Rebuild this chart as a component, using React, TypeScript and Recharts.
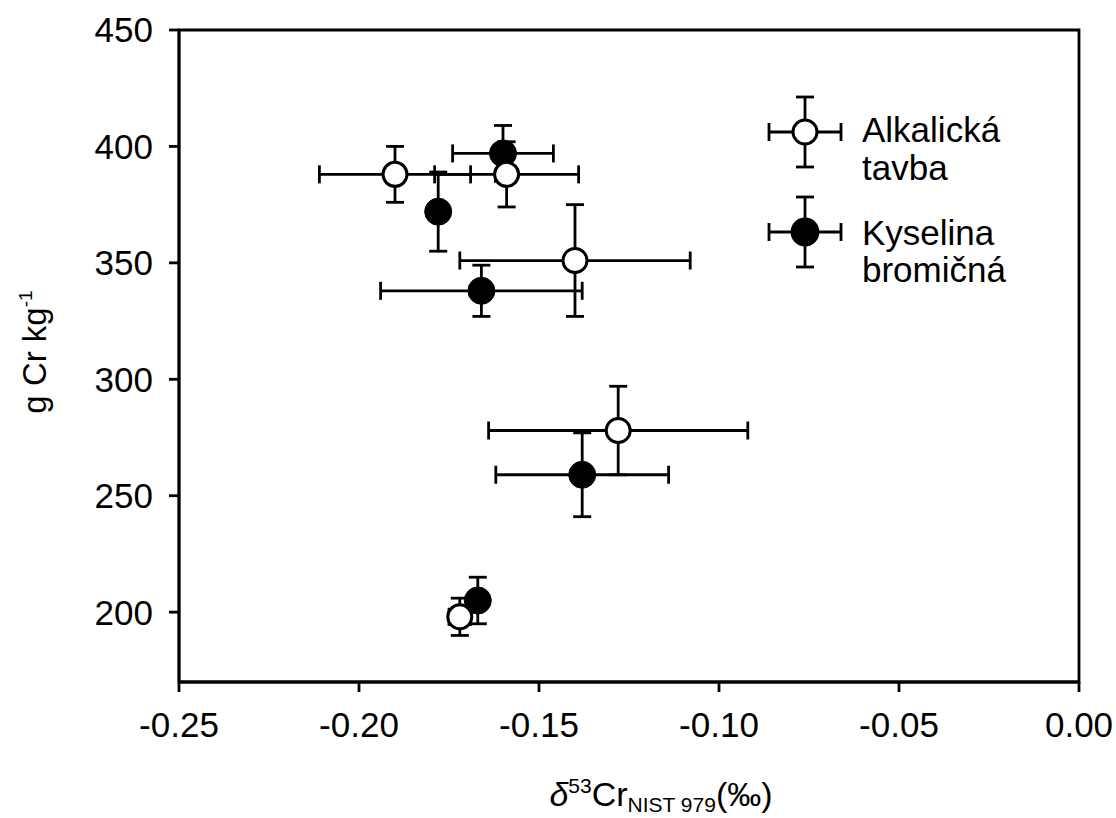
import React from "react";
import {
  ScatterChart,
  Scatter,
  XAxis,
  YAxis,
  ErrorBar,
  ReferenceArea,
} from "recharts";

// values
const alkX = [-0.19, -0.159, -0.14, -0.128, -0.172];
const alkY = [388, 388, 351, 278, 198];
const alkXErr = [0.021, 0.02, 0.032, 0.036, 0.003];
const alkYErr = [12, 14, 24, 19, 8];

const bromX = [-0.16, -0.178, -0.166, -0.138, -0.167];
const bromY = [397, 372, 338, 259, 205];
const bromXErr = [0.014, 0.002, 0.028, 0.024, 0.002];
const bromYErr = [12, 17, 11, 18, 10];

const xTicks = [-0.25, -0.2, -0.15, -0.1, -0.05, 0];
const yTicks = [200, 250, 300, 350, 400, 450];

const legendLines = [
  ["Alkalická", "tavba"],
  ["Kyselina", "bromičná"],
];

const build = (xs: number[], ys: number[], exs: number[], eys: number[]) =>
  xs.map((x, i) => ({ x, y: ys[i], ex: exs[i], ey: eys[i] }));

const alkData = build(alkX, alkY, alkXErr, alkYErr);
const bromData = build(bromX, bromY, bromXErr, bromYErr);

const FONT = '"Liberation Sans", Arial, Helvetica, sans-serif';
const NARROW = '"Liberation Sans Narrow", "Arial Narrow", "Liberation Sans", Arial, sans-serif';
const SW = 2.8;

const openShape = (p: any) => (
  <circle cx={p.cx} cy={p.cy} r={12} fill="#fff" stroke="#000" strokeWidth={3} />
);
const filledShape = (p: any) => (
  <circle cx={p.cx} cy={p.cy} r={13.5} fill="#000" stroke="#000" strokeWidth={1} />
);

const Marker = ({ cx, cy, filled }: { cx: number; cy: number; filled: boolean }) => (
  <g stroke="#000" strokeWidth={SW}>
    <line x1={cx - 36} y1={cy} x2={cx + 36} y2={cy} />
    <line x1={cx} y1={cy - 35} x2={cx} y2={cy + 35} />
    <line x1={cx - 36} y1={cy - 9} x2={cx - 36} y2={cy + 9} />
    <line x1={cx + 36} y1={cy - 9} x2={cx + 36} y2={cy + 9} />
    <line x1={cx - 9} y1={cy - 35} x2={cx + 9} y2={cy - 35} />
    <line x1={cx - 9} y1={cy + 35} x2={cx + 9} y2={cy + 35} />
    {filled ? (
      <circle cx={cx} cy={cy} r={13} fill="#000" />
    ) : (
      <circle cx={cx} cy={cy} r={12} fill="#fff" strokeWidth={3} />
    )}
  </g>
);

const LegendBox = () => (
  <svg
    width={300}
    height={220}
    style={{ position: "absolute", left: 750, top: 80, display: "block" }}
  >
    <Marker cx={55} cy={52} filled={false} />
    <text fontFamily={FONT} fontSize={35} fill="#000">
      <tspan x={112} y={62}>{legendLines[0][0]}</tspan>
      <tspan x={112} y={100}>{legendLines[0][1]}</tspan>
    </text>
    <Marker cx={55} cy={152} filled={true} />
    <text fontFamily={FONT} fontSize={35} fill="#000">
      <tspan x={112} y={165}>{legendLines[1][0]}</tspan>
      <tspan x={112} y={202}>{legendLines[1][1]}</tspan>
    </text>
  </svg>
);

const XTitle = () => (
  <text x={661} y={806} textAnchor="middle" fontFamily={NARROW} fill="#000" fontSize={34}>
    <tspan fontStyle="italic" fontFamily={FONT}>δ</tspan>
    <tspan fontSize={21} dy={-13}>53</tspan>
    <tspan dy={13}>Cr</tspan>
    <tspan fontSize={21} dy={6}>NIST 979</tspan>
    <tspan dy={-6}>(‰)</tspan>
  </text>
);

const YTitle = () => (
  <text
    x={0}
    y={0}
    transform="translate(46, 352) rotate(-90)"
    textAnchor="middle"
    fontFamily={FONT}
    fill="#000"
    fontSize={33}
  >
    <tspan>g Cr kg</tspan>
    <tspan fontSize={19} dy={-14}>-1</tspan>
  </text>
);

export default function App() {
  return (
    <div style={{ position: "absolute", left: 0, top: 0, width: 1116, height: 818, background: "#fff" }}>
      <ScatterChart
        width={1116}
        height={818}
        margin={{ top: 30, right: 37, bottom: 0, left: 0 }}
        style={{ fontFamily: FONT }}
      >
        <XAxis
          type="number"
          dataKey="x"
          domain={[-0.25, 0]}
          ticks={xTicks}
          tickFormatter={(v: number) => v.toFixed(2)}
          height={136}
          axisLine={{ stroke: "#000", strokeWidth: SW }}
          tickLine={{ stroke: "#000", strokeWidth: SW }}
          tickSize={10}
          tickMargin={20}
          tick={{ fill: "#000", fontSize: 35, fontFamily: FONT }}
          allowDataOverflow
          label={{ content: () => <XTitle /> }}
        />
        <YAxis
          type="number"
          dataKey="y"
          domain={[170, 450]}
          ticks={yTicks}
          width={179}
          axisLine={{ stroke: "#000", strokeWidth: SW }}
          tickLine={{ stroke: "#000", strokeWidth: SW }}
          tickSize={10}
          tickMargin={16}
          tick={{ fill: "#000", fontSize: 35, fontFamily: FONT }}
          allowDataOverflow
          label={{ content: () => <YTitle /> }}
        />
        <ReferenceArea
          x1={-0.25}
          x2={0}
          y1={170}
          y2={450}
          fill="none"
          fillOpacity={0}
          stroke="#000"
          strokeWidth={SW}
        />
        <Scatter data={bromData} shape={filledShape} isAnimationActive={false}>
          <ErrorBar dataKey="ex" direction="x" width={9} stroke="#000" strokeWidth={SW} />
          <ErrorBar dataKey="ey" direction="y" width={9} stroke="#000" strokeWidth={SW} />
        </Scatter>
        <Scatter data={alkData} shape={openShape} isAnimationActive={false}>
          <ErrorBar dataKey="ex" direction="x" width={9} stroke="#000" strokeWidth={SW} />
          <ErrorBar dataKey="ey" direction="y" width={9} stroke="#000" strokeWidth={SW} />
        </Scatter>
      </ScatterChart>
      <LegendBox />
    </div>
  );
}
